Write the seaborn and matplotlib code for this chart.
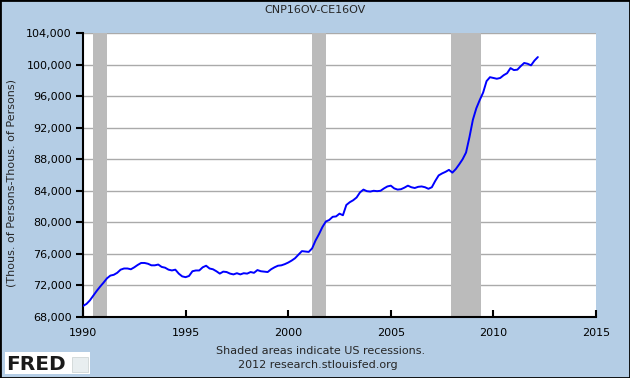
import numpy as np
import pandas as pd
import matplotlib.pyplot as plt
import matplotlib.ticker as mticker
from matplotlib.patches import Rectangle
import seaborn as sns

# values, every 2 months from Jan 1990 (thous. of persons)
values = [
    69400, 69650, 70100, 70700, 71300, 71850,   # 1990
    72350, 72900, 73250, 73350, 73600, 74000,   # 1991
    74150, 74150, 74050, 74300, 74600, 74850,   # 1992
    74850, 74750, 74550, 74550, 74650, 74350,   # 1993
    74250, 74000, 73900, 74000, 73500, 73150,   # 1994
    73050, 73200, 73800, 73900, 73900, 74300,   # 1995
    74500, 74150, 74050, 73800, 73500, 73750,   # 1996
    73700, 73500, 73400, 73550, 73400, 73550,   # 1997
    73500, 73700, 73600, 73950, 73800, 73750,   # 1998
    73700, 74050, 74300, 74500, 74550, 74700,   # 1999
    74900, 75150, 75450, 75900, 76350, 76300,   # 2000
    76250, 76700, 77700, 78500, 79400, 80100,   # 2001
    80300, 80700, 80750, 81100, 80900, 82200,   # 2002
    82550, 82800, 83150, 83800, 84150, 83950,   # 2003
    83900, 84000, 83950, 84000, 84300, 84550,   # 2004
    84650, 84300, 84150, 84200, 84400, 84650,   # 2005
    84450, 84350, 84500, 84550, 84450, 84250,   # 2006
    84450, 85250, 85950, 86200, 86400, 86650,   # 2007
    86300, 86750, 87350, 88000, 88850, 90800,   # 2008
    93000, 94450, 95500, 96450, 97900, 98400,   # 2009
    98300, 98200, 98300, 98650, 98900, 99550,   # 2010
    99300, 99350, 99800, 100200, 100100, 99900, # 2011
    100500, 100950,                             # 2012
]
dates = pd.date_range('1990-01-01', periods=len(values), freq='2MS')

# US recessions (start, end)
rec_start = ['1990-07-01', '2001-03-01', '2007-12-01']
rec_end = ['1991-03-01', '2001-11-01', '2009-06-01']

x_ticks = [1990, 1995, 2000, 2005, 2010, 2015]
y_ticks = list(range(68000, 104001, 4000))


def dec_year(d):
    d = pd.to_datetime(d)
    return d.year + (d.month - 1) / 12.0


df = pd.DataFrame({'year': dec_year(dates), 'value': values})

bg = '#B4CDE5'
sns.set_style('white')
plt.rcParams['font.family'] = ['DejaVu Sans']

fig = plt.figure(figsize=(6.3, 3.78), dpi=100, facecolor=bg)
ax = fig.add_axes([83/630, 1-317/378, (596-83)/630, (317-33)/378])
ax.set_facecolor('white')

for s, e in zip(rec_start, rec_end):
    ax.axvspan(dec_year(s), dec_year(e), color='#BBBBBB', lw=0, zorder=1)

sns.lineplot(data=df, x='year', y='value', ax=ax, color='#0000FF', lw=1.4, zorder=3)

ax.set_xlim(1990, 2015)
ax.set_ylim(68000, 104000)
ax.set_xticks(x_ticks)
ax.set_yticks(y_ticks)
ax.yaxis.set_major_formatter(mticker.FuncFormatter(lambda v, p: f'{int(v):,}'))
ax.set_axisbelow(True)
ax.yaxis.grid(True, color='#AAAAAA', lw=1)
ax.xaxis.grid(False)
ax.set_xlabel('')
ax.set_ylabel('')

for side in ['top', 'right']:
    ax.spines[side].set_visible(False)
for side in ['left', 'bottom']:
    ax.spines[side].set_color('black')
    ax.spines[side].set_linewidth(1.5)

ax.tick_params(axis='y', direction='out', length=5, width=1.5, colors='black', labelsize=8, pad=3)
ax.tick_params(axis='x', direction='in', length=5, width=1.5, colors='black', labelsize=8, pad=8)
ax.tick_params(left=True, bottom=True)

fig.text(0.5, 1-10/378, 'CNP16OV-CE16OV', ha='center', va='center', fontsize=8)
fig.text(12/630, 1-183/378, '(Thous. of Persons-Thous. of Persons)', rotation=90,
         ha='center', va='center', fontsize=8)
fig.text(321/630, 1-351/378, 'Shaded areas indicate US recessions.', ha='center', va='center', fontsize=8)
fig.text(318/630, 1-365/378, '2012 research.stlouisfed.org', ha='center', va='center', fontsize=8)

# FRED logo
fig.patches.append(Rectangle((5/630, 1-374/378), 85/630, 22/378, transform=fig.transFigure,
                             facecolor='white', edgecolor='none', zorder=1))
fig.text(6/630, 1-364/378, 'FRED', ha='left', va='center', fontsize=14.5,
         fontweight='bold', color='#1a1a1a', zorder=2)
fig.patches.append(Rectangle((72/630, 1-372/378), 16/630, 15/378, transform=fig.transFigure,
                             facecolor='#E8EEF0', edgecolor='#C8D0D0', lw=0.5, zorder=2))

# outer border
fig.patches.append(Rectangle((0, 0), 1, 1, transform=fig.transFigure, fill=False,
                             edgecolor='black', lw=2, zorder=5))

fig.savefig('out.png', dpi=100, facecolor=bg)
